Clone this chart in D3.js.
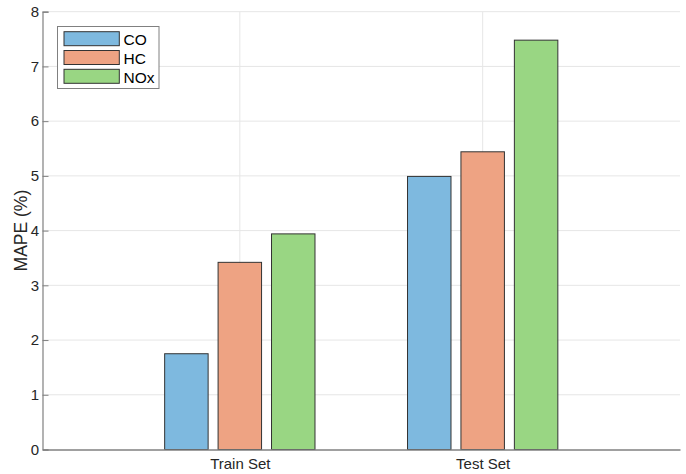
<!DOCTYPE html>
<html><head><meta charset="utf-8">
<script src="https://cdn.jsdelivr.net/npm/d3@7"></script>
<style>body{margin:0;background:#fff}svg{display:block;font-family:"Liberation Sans",Arial,sans-serif}</style>
</head><body>
<svg id="c" width="686" height="474"></svg>
<script>
const categories = ["Train Set", "Test Set"];
const seriesNames = ["CO", "HC", "NOx"];
const CO  = [1.75, 4.99];
const HC  = [3.42, 5.44];
const NOx = [3.94, 7.48];
const yTicks = [0,1,2,3,4,5,6,7,8];
const colors = ["#7EB9DF", "#EEA383", "#99D683"];
const seriesValues = [CO, HC, NOx];

const svg = d3.select("#c");
const L = 42.5, R = 680, T = 11.7, B = 449.5;
const x = d3.scaleLinear().domain([0.1875, 2.8125]).range([L, R]);
const y = d3.scaleLinear().domain([0, 8]).range([B, T]);

// grid
svg.append("g").selectAll("line.h").data(yTicks.filter(d=>d>0)).join("line")
  .attr("x1", L).attr("x2", R).attr("y1", d=>y(d)).attr("y2", d=>y(d))
  .attr("stroke", "#e6e6e6").attr("stroke-width", 1);
svg.append("g").selectAll("line.v").data(categories).join("line")
  .attr("x1", (d,i)=>x(i+1)).attr("x2", (d,i)=>x(i+1)).attr("y1", T).attr("y2", B)
  .attr("stroke", "#e6e6e6").attr("stroke-width", 1);

// bars
const bw = 0.179, step = 0.22;
seriesValues.forEach((vals, s) => {
  svg.append("g").selectAll("rect").data(vals).join("rect")
    .attr("x", (d,i)=>x(i+1 + (s-1)*step - bw/2))
    .attr("width", x(bw) - x(0))
    .attr("y", d=>y(d)).attr("height", d=>B - y(d))
    .attr("fill", colors[s]).attr("stroke", "#333").attr("stroke-width", 1);
});

// axes
const ya = svg.append("g").attr("transform", `translate(${L},0)`)
  .call(d3.axisLeft(y).tickValues(yTicks).tickSize(-6).tickPadding(3.5).tickFormat(d3.format("d")));
ya.select(".domain").attr("stroke", "#808080").attr("stroke-width", 1.2);
ya.selectAll(".tick line").attr("stroke", "#808080");
ya.selectAll("text").attr("font-size", 15).attr("fill", "#262626").attr("font-family", "Liberation Sans, Arial, sans-serif");

const xa = svg.append("g").attr("transform", `translate(0,${B})`)
  .call(d3.axisBottom(x).tickValues([1,2]).tickSize(0).tickPadding(8.4).tickFormat((d)=>categories[d-1]));
xa.select(".domain").attr("stroke", "#808080").attr("stroke-width", 1.5);
xa.selectAll("text").attr("font-size", 15).attr("fill", "#262626").attr("font-family", "Liberation Sans, Arial, sans-serif");

// y label
svg.append("text").attr("transform", `translate(27,${(T+B)/2}) rotate(-90)`)
  .attr("text-anchor", "middle").attr("font-size", 17.5).attr("fill", "#262626").text("MAPE (%)");

// legend
const lg = svg.append("g");
lg.append("rect").attr("x", 57.5).attr("y", 26.5).attr("width", 101.5).attr("height", 62)
  .attr("fill", "#fff").attr("stroke", "#808080").attr("stroke-width", 1);
seriesNames.forEach((n, i) => {
  const yy = 31.7 + i*18.8;
  lg.append("rect").attr("x", 64).attr("y", yy).attr("width", 55.3).attr("height", 14)
    .attr("fill", colors[i]).attr("stroke", "#333").attr("stroke-width", 1);
  lg.append("text").attr("x", 123.5).attr("y", yy + 13.3).attr("font-size", 15.5).attr("fill", "#000").text(n);
});
</script>
</body></html>
